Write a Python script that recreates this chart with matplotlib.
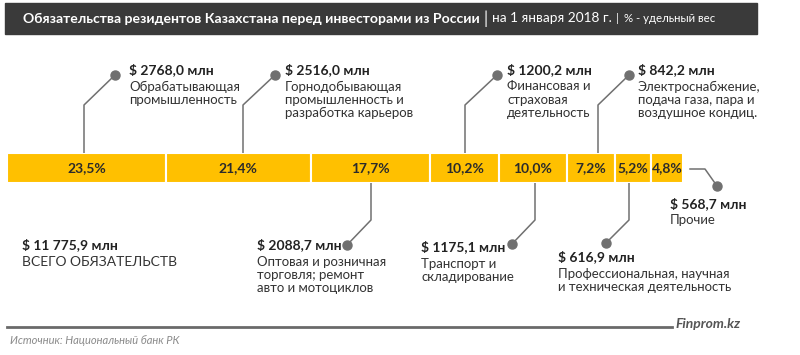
import matplotlib.pyplot as plt
from matplotlib.patches import Rectangle

plt.rcParams["font.family"] = ["Lato", "Open Sans", "DejaVu Sans"]

# data: liabilities of Kazakhstan residents to investors from Russia, 01.01.2018
sectors = [
    "Обрабатывающая\nпромышленность",
    "Горнодобывающая\nпромышленность и\nразработка карьеров",
    "Оптовая и розничная\nторговля; ремонт\nавто и мотоциклов",
    "Финансовая и\nстраховая\nдеятельность",
    "Транспорт и\nскладирование",
    "Электроснабжение,\nподача газа, пара и\nвоздушное кондиц.",
    "Профессиональная, научная\nи техническая деятельность",
    "Прочие",
]
values_mln = [2768.0, 2516.0, 2088.7, 1200.2, 1175.1, 842.2, 616.9, 568.7]
shares = [23.5, 21.4, 17.7, 10.2, 10.0, 7.2, 5.2, 4.8]
total_mln = "11 775,9"

gold = "#FFC000"
grey = "#707070"
dark = "#3a3a3a"

fig = plt.figure(figsize=(8, 3.55), dpi=100)

# pixel overlay for all the text / connectors
ax = fig.add_axes([0, 0, 1, 1])
ax.set_xlim(0, 800)
ax.set_ylim(355, 0)
ax.axis("off")

# bar strip in percent units
bax = fig.add_axes([7 / 800, 1 - 183 / 355, 676 / 800, 30 / 355])
bax.set_xlim(0, 100)
bax.set_ylim(0, 1)
bax.axis("off")
left = 0
for s in shares:
    bax.barh(0.5, s, left=left, height=1, color=gold, edgecolor="white", linewidth=1.5)
    bax.text(left + s / 2, 0.5, f"{s:.1f}%".replace(".", ","), ha="center", va="center",
             fontsize=10, fontweight="bold", color="#2b2b2b")
    left += s

# title bar, pieces chained one after another
ax.add_patch(Rectangle((5, 3), 752, 31, color=dark, zorder=0))
renderer = fig.canvas.get_renderer()
x = 23
pieces = [
    ("Обязательства резидентов Казахстана перед инвесторами из России", 10.1, "bold", 4),
    ("|", 12, "normal", 4),
    ("на 1 января 2018 г.", 9.8, "normal", 4),
    ("|", 8, "normal", 5),
    ("% - удельный вес", 8.2, "normal", 0),
]
for txt, fs, fw, gap in pieces:
    t = ax.text(x, 18.5, txt, color="white", fontsize=fs, fontweight=fw, va="center")
    bb = t.get_window_extent(renderer)
    x += bb.width + gap


def label(x, y, i):
    ax.text(x, y, f"$ {values_mln[i]:.1f} млн".replace(".", ","), fontsize=10,
            fontweight="bold", color="#222222", va="center")
    ax.text(x, y + 10.5, sectors[i], fontsize=9.5, color="#333333", va="top", linespacing=1.12)


def connector(xs, ys):
    ax.plot(xs, ys, color=grey, lw=1.1)
    ax.plot(xs[-1], ys[-1], "o", color=grey, ms=6.5)


# upper labels
for i, bx, dx, tx in [(0, 84, 115, 129), (1, 243, 275, 285), (3, 465, 497, 507), (5, 598, 629, 638)]:
    connector([bx, bx, dx], [153, 105, 75])
    label(tx, 70, i)

# lower labels
connector([371, 371, 347], [183, 220, 245])
label(257, 245, 2)
connector([535, 535, 512], [183, 220, 244])
label(421, 247, 4)
connector([629, 629, 606], [183, 220, 243])
label(558, 257, 6)
connector([690, 705, 717], [169, 169, 186])
label(670, 204, 7)

# total
ax.text(22, 245, f"$ {total_mln} млн", fontsize=10, fontweight="bold", color="#222222", va="center")
ax.text(22, 262, "ВСЕГО ОБЯЗАТЕЛЬСТВ", fontsize=10, color="#333333", va="center")

# footer
ax.plot([7, 672], [327, 327], color="#6a6a6a", lw=2)
ax.text(675, 324, "Finprom.kz", fontsize=10, fontweight="bold", fontstyle="italic",
        color="#555555", va="center")
ax.text(10, 340, "Источник: Национальный банк РК", fontsize=8, fontstyle="italic",
        color="#8a8a8a", va="center")

fig.savefig("out.png", dpi=100)
